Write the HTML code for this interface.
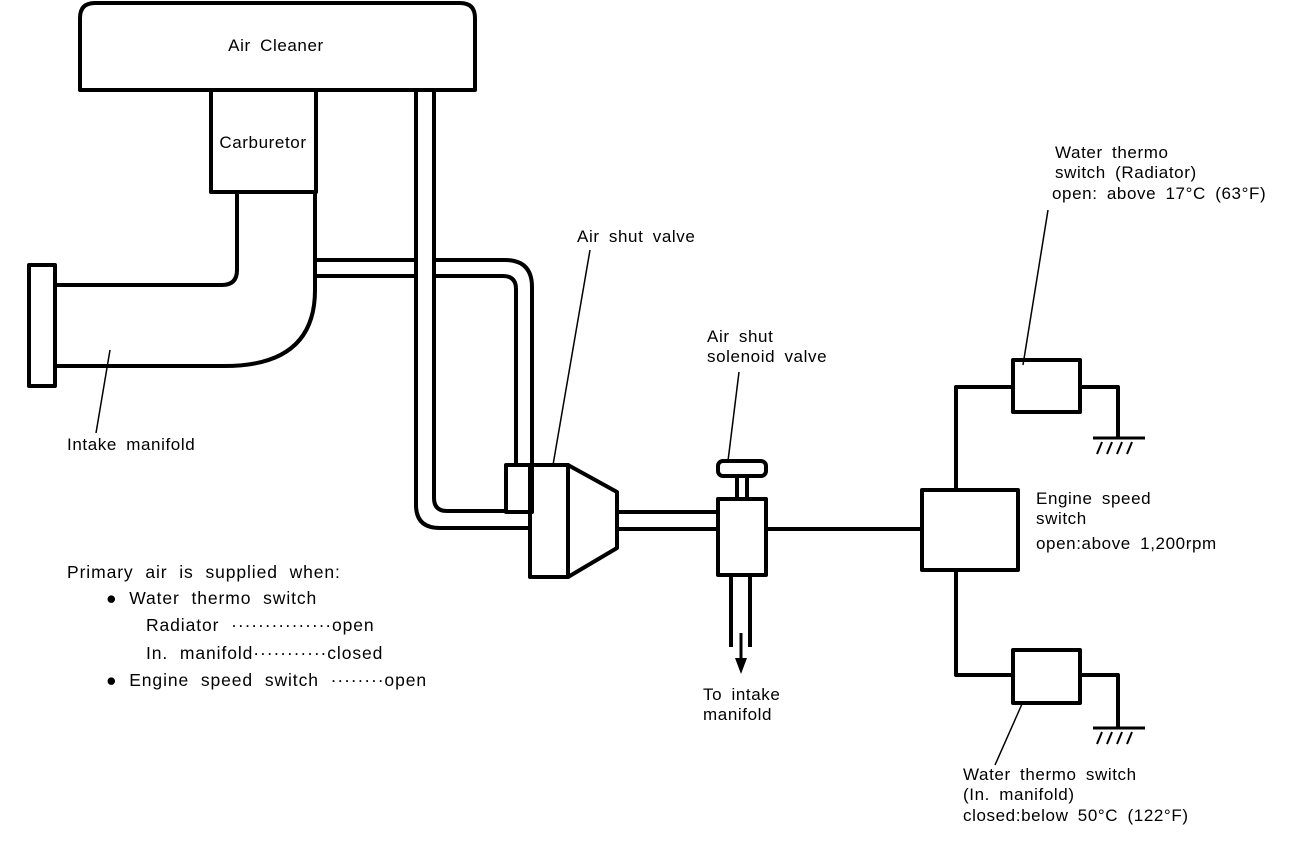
<!DOCTYPE html>
<html><head><meta charset="utf-8"><style>
html,body{margin:0;padding:0;background:#fff;}
svg{display:block;}
text{font-family:"Liberation Sans",sans-serif;font-size:17px;letter-spacing:0.6px;word-spacing:4px;fill:#000;}
.lg{font-size:17.5px;letter-spacing:0.9px;word-spacing:6px;}
</style></head><body>
<svg width="1312" height="844" viewBox="0 0 1312 844" xmlns="http://www.w3.org/2000/svg">
<g fill="none" stroke="#000" stroke-width="4" stroke-linejoin="round">
<path d="M80,90 L80,18 Q80,3 95,3 L460,3 Q475,3 475,18 L475,90 Z"/>
<rect x="211" y="90" width="105" height="102"/>
<rect x="29" y="265" width="26" height="121"/>
<path d="M55,285 L222,285 Q237,285 237,270 L237,192"/>
<path d="M315,192 L315,290 Q315,366 225,366 L55,366"/>
<path d="M416,90 L416,505 Q416,528 440,528 L530,528"/>
<path d="M434,90 L434,498 Q434,511 447,511 L506,511"/>
<path d="M315,260 L416,260"/><path d="M434,260 L505,260 Q532,260 532,287 L532,465"/>
<path d="M315,276 L416,276"/><path d="M434,276 L503,276 Q516,276 516,289 L516,465"/>
<rect x="506" y="465" width="26" height="47"/>
<rect x="530" y="465" width="38" height="112"/>
<path d="M568,465 L617,492 L617,548 L568,577"/>
<path d="M617,512 L718,512 M617,529 L718,529"/>
<rect x="718" y="499" width="48" height="76"/>
<rect x="718" y="461" width="48" height="15" rx="5"/>
<path d="M737,476 L737,499 M747,476 L747,499"/>
<path d="M731,575 L731,647 M750,575 L750,647"/>
<path d="M741,633 L741,664" stroke-width="3"/>
<path d="M766,529 L922,529"/>
<rect x="922" y="490" width="96" height="80"/>
<path d="M956,490 L956,387 L1013,387 M956,570 L956,675 L1013,675"/>
<rect x="1013" y="360" width="67" height="52"/>
<rect x="1013" y="650" width="67" height="53"/>
<path d="M1080,387 L1118,387 L1118,438 M1080,675 L1118,675 L1118,728"/>
<path d="M1093,438 L1145,438 M1093,728 L1145,728" stroke-width="3"/>
</g>
<g stroke="#000" stroke-width="2" fill="none">
<path d="M1102,442 L1097,454 M1112,442 L1107,454 M1122,442 L1117,454 M1132,442 L1127,454"/>
<path d="M1102,732 L1097,744 M1112,732 L1107,744 M1122,732 L1117,744 M1132,732 L1127,744"/>
<path d="M110,350 L96,433" stroke-width="1.5"/>
<path d="M590,250 L553,465" stroke-width="1.5"/>
<path d="M739,372 L728,461" stroke-width="1.5"/>
<path d="M1048,210 L1023,365" stroke-width="1.5"/>
<path d="M1022,704 L995,765" stroke-width="1.5"/>
</g>
<path d="M735,658 L747,658 L741,674 Z" fill="#000"/>
<text x="276" y="51" text-anchor="middle">Air Cleaner</text>
<text x="263" y="148" text-anchor="middle">Carburetor</text>
<text x="67" y="450">Intake manifold</text>
<text x="577" y="242">Air shut valve</text>
<text x="707" y="342">Air shut</text>
<text x="707" y="362">solenoid valve</text>
<text x="1055" y="158">Water thermo</text>
<text x="1055" y="178">switch (Radiator)</text>
<text x="1052" y="199">open: above 17°C (63°F)</text>
<text x="1036" y="504">Engine speed</text>
<text x="1036" y="524">switch</text>
<text x="1036" y="549">open:above 1,200rpm</text>
<text x="703" y="700">To intake</text>
<text x="703" y="720">manifold</text>
<text x="963" y="780">Water thermo switch</text>
<text x="963" y="800">(In. manifold)</text>
<text x="963" y="821">closed:below 50°C (122°F)</text>
<text class="lg" x="67" y="578">Primary air is supplied when:</text>
<text class="lg" x="106" y="604">● Water thermo switch</text>
<text class="lg" x="146" y="631">Radiator ···············open</text>
<text class="lg" x="146" y="659">In. manifold···········closed</text>
<text class="lg" x="106" y="686">● Engine speed switch  ········open</text>
</svg>
</body></html>
